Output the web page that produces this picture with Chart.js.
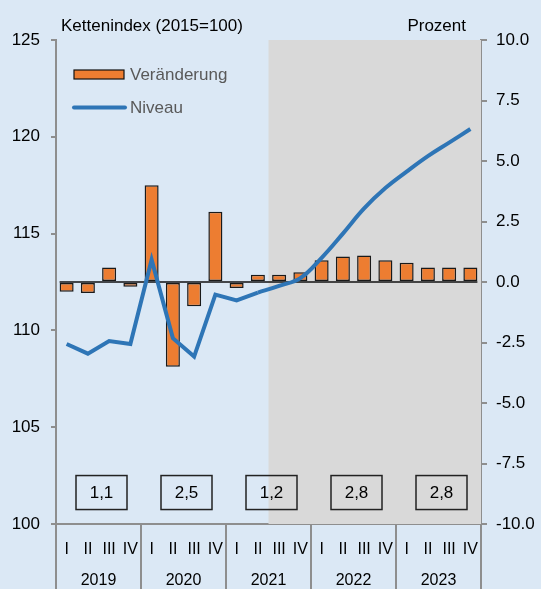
<!DOCTYPE html>
<html>
<head>
<meta charset="utf-8">
<script src="https://cdn.jsdelivr.net/npm/chart.js@4"></script>
<style>
  html, body { margin: 0; padding: 0; background: #dbe8f5; }
  #chart { display: block; }
</style>
</head>
<body>
<canvas id="chart" width="541" height="589"></canvas>
<script>
// Daten
const quartale = ['I', 'II', 'III', 'IV', 'I', 'II', 'III', 'IV', 'I', 'II', 'III', 'IV',
  'I', 'II', 'III', 'IV', 'I', 'II', 'III', 'IV'];
const jahre = ['2019', '2020', '2021', '2022', '2023'];
const veraenderung = [-0.4, -0.45, 0.6, -0.2, 4.0, -3.5, -1.0, 2.9, -0.25, 0.3,
  0.3, 0.4, 0.9, 1.05, 1.1, 0.9, 0.8, 0.6, 0.6, 0.6];
const niveau = [109.3, 108.8, 109.45, 109.3, 113.65, 109.6, 108.65, 111.85, 111.55, 111.95,
  112.3, 112.7, 113.75, 115.0, 116.3, 117.35, 118.2, 119.0, 119.7, 120.4];
const jahresraten = ['1,1', '2,5', '1,2', '2,8', '2,8'];
const prognoseAb = 10; // grau hinterlegt ab 2021 III
const glattAb = 9;

const FONT = 'Liberation Sans, Arial, sans-serif';
const GRAU = '#8e8e8e';
const ORANGE = '#ed7d31';
const BLAU = '#2e75b6';

// Zeichnungen ausserhalb der Datensätze
const extras = {
  id: 'extras',
  beforeDraw(chart) {
    const ctx = chart.ctx;
    ctx.save();
    ctx.fillStyle = '#dbe8f5';
    ctx.fillRect(0, 0, chart.width, chart.height);
    ctx.restore();
  },
  beforeDatasetsDraw(chart) {
    const { ctx, chartArea, scales } = chart;
    const x0 = (scales.x.getPixelForValue(prognoseAb - 1) + scales.x.getPixelForValue(prognoseAb)) / 2;
    ctx.save();
    ctx.fillStyle = '#d9d9d9';
    ctx.fillRect(x0, chartArea.top, chartArea.right - x0, chartArea.bottom - chartArea.top);
    ctx.restore();
  },
  afterDatasetDraw(chart, args) {
    if (args.meta.type !== 'bar') return;
    const bars = args.meta.data;
    const first = bars[0], last = bars[bars.length - 1];
    const y = chart.scales.y1.getPixelForValue(0);
    const ctx = chart.ctx;
    ctx.save();
    ctx.strokeStyle = '#111';
    ctx.lineWidth = 1.5;
    ctx.beginPath();
    ctx.moveTo(first.x - first.width / 2, y);
    ctx.lineTo(last.x + last.width / 2, y);
    ctx.stroke();
    ctx.restore();
  },
  afterDraw(chart) {
    const { ctx, chartArea, scales } = chart;
    const x = scales.x;
    ctx.save();

    // Achsentitel
    ctx.fillStyle = '#000';
    ctx.font = '17px ' + FONT;
    ctx.textBaseline = 'alphabetic';
    ctx.textAlign = 'left';
    ctx.fillText('Kettenindex (2015=100)', 61, 31);
    ctx.textAlign = 'right';
    ctx.fillText('Prozent', 466, 31);

    // Legende
    ctx.fillStyle = ORANGE;
    ctx.fillRect(74, 70, 50, 9);
    ctx.strokeStyle = '#111';
    ctx.lineWidth = 1.2;
    ctx.strokeRect(74, 70, 50, 9);
    ctx.strokeStyle = BLAU;
    ctx.lineWidth = 4;
    ctx.lineCap = 'round';
    ctx.beginPath();
    ctx.moveTo(74, 107.5);
    ctx.lineTo(125, 107.5);
    ctx.stroke();
    ctx.lineCap = 'butt';
    ctx.fillStyle = '#595959';
    ctx.textAlign = 'left';
    ctx.textBaseline = 'middle';
    ctx.fillText('Veränderung', 130, 75);
    ctx.fillText('Niveau', 130, 108);

    // Jahrestrenner unter der Achse
    ctx.strokeStyle = GRAU;
    ctx.lineWidth = 2;
    for (let k = 0; k <= jahre.length; k++) {
      let xp;
      if (k === 0) xp = chartArea.left;
      else if (k === jahre.length) xp = chartArea.right;
      else xp = (x.getPixelForValue(4 * k - 1) + x.getPixelForValue(4 * k)) / 2;
      ctx.beginPath();
      ctx.moveTo(xp, chartArea.bottom);
      ctx.lineTo(xp, chart.height);
      ctx.stroke();
    }

    // Jahre
    ctx.fillStyle = '#000';
    ctx.font = '16px ' + FONT;
    ctx.textAlign = 'center';
    ctx.textBaseline = 'middle';
    jahre.forEach((j, i) => {
      const cx = (x.getPixelForValue(4 * i + 1) + x.getPixelForValue(4 * i + 2)) / 2;
      ctx.fillText(j, cx, 581);
    });

    // Jahresraten in Kästchen
    const by = scales.y1.getPixelForValue(-8.7);
    ctx.font = '17px ' + FONT;
    ctx.strokeStyle = '#222';
    ctx.lineWidth = 1.5;
    jahresraten.forEach((r, i) => {
      const cx = (x.getPixelForValue(4 * i + 1) + x.getPixelForValue(4 * i + 2)) / 2 + 3;
      ctx.strokeRect(cx - 25.5, by - 17, 51, 34);
      ctx.fillText(r, cx, by + 1);
    });

    ctx.restore();
  }
};

const ctx = document.getElementById('chart').getContext('2d');
new Chart(ctx, {
  type: 'bar',
  data: {
    labels: quartale,
    datasets: [
      {
        type: 'line',
        label: 'Niveau',
        data: niveau.map((v, i) => (i <= glattAb ? v : null)),
        borderColor: BLAU,
        borderWidth: 4,
        pointRadius: 0,
        tension: 0,
        spanGaps: false,
        yAxisID: 'y',
        order: 0
      },
      {
        type: 'line',
        label: 'Niveau Prognose',
        data: niveau.map((v, i) => (i >= glattAb ? v : null)),
        borderColor: BLAU,
        borderWidth: 4,
        pointRadius: 0,
        tension: 0.4,
        yAxisID: 'y',
        order: 1
      },
      {
        type: 'bar',
        label: 'Veränderung',
        data: veraenderung,
        backgroundColor: ORANGE,
        borderColor: '#1a1a1a',
        borderWidth: 1.5,
        borderSkipped: false,
        barPercentage: 0.66,
        categoryPercentage: 1,
        yAxisID: 'y1',
        order: 2
      }
    ]
  },
  options: {
    responsive: false,
    animation: false,
    devicePixelRatio: 1,
    layout: { padding: { top: 40, left: 0, right: 0, bottom: 0 } },
    plugins: {
      legend: { display: false },
      tooltip: { enabled: false }
    },
    scales: {
      x: {
        type: 'category',
        offset: true,
        grid: { display: false },
        border: { color: GRAU, width: 2 },
        ticks: {
          autoSkip: false,
          maxRotation: 0,
          padding: 8,
          color: '#000',
          font: { family: FONT, size: 16 }
        },
        afterFit: (s) => { s.height = 65; }
      },
      y: {
        position: 'left',
        min: 100,
        max: 125,
        grid: { drawOnChartArea: false, tickLength: 5, color: GRAU, lineWidth: 2 },
        border: { color: GRAU, width: 2 },
        ticks: {
          stepSize: 5,
          padding: 11,
          color: '#000',
          font: { family: FONT, size: 17 }
        },
        afterFit: (s) => { s.width = 56; }
      },
      y1: {
        position: 'right',
        min: -10,
        max: 10,
        grid: { drawOnChartArea: false, tickLength: 6, color: GRAU, lineWidth: 2 },
        border: { color: GRAU, width: 2 },
        ticks: {
          stepSize: 2.5,
          padding: 9,
          color: '#000',
          font: { family: FONT, size: 17 },
          callback: (v) => v.toFixed(1)
        },
        afterFit: (s) => { s.width = 60; }
      }
    }
  },
  plugins: [extras]
});
</script>
</body>
</html>
